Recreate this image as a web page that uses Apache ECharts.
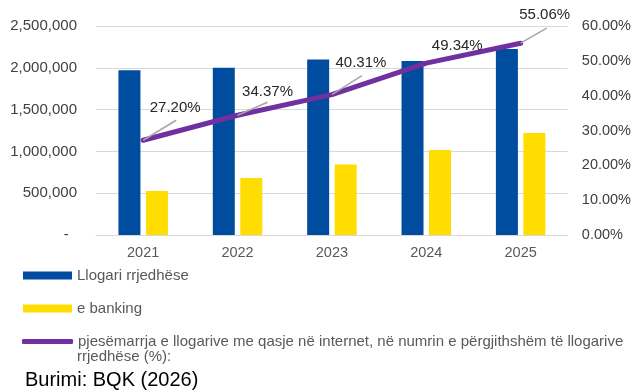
<!DOCTYPE html>
<html>
<head>
<meta charset="utf-8">
<script src="https://cdn.jsdelivr.net/npm/echarts@6/dist/echarts.min.js"></script>
<style>html,body{margin:0;padding:0;background:#fff;}#c{width:634px;height:390px;}</style>
</head>
<body>
<div id="c"></div>
<script>
var categories = ['2021', '2022', '2023', '2024', '2025'];
var llogariRrjedhese = [1970000, 2000000, 2100000, 2080000, 2225000];
var eBanking = [527000, 683000, 842000, 1018000, 1220000];
var pjesemarrja = [27.20, 34.37, 40.31, 49.34, 55.06];
var seriesNames = ['Llogari rrjedhëse', 'e banking', 'pjesëmarrja e llogarive me qasje në internet, në numrin e përgjithshëm të llogarive rrjedhëse (%):'];
var legendLine2 = 'rrjedhëse (%):';
var sourceText = 'Burimi: BQK (2026)';

// label layout (pixel offsets from each data point): label centre, leader end
var labelCentre = [[32, -32], [30, -23], [29, -32], [31, -17], [24, -28]];
var leaderEnd = [[33, -20], [30, -13], [30, -19], [0, 0], [26, -15]];

var FONT = 'Liberation Sans, Arial, sans-serif';
var chart = echarts.init(document.getElementById('c'), null, {renderer: 'canvas'});
function fmtNum(v) {
  if (v === 0) return '-  ';
  return v.toString().replace(/\B(?=(\d{3})+(?!\d))/g, ',');
}
var legendText = {fontFamily: FONT, fontSize: 15, color: '#595959'};
chart.setOption({
  animation: false,
  backgroundColor: '#fff',
  grid: {left: 96, right: 66, top: 26, bottom: 155},
  title: [
    {text: sourceText, left: 25, top: 370, padding: 0,
     textStyle: {fontFamily: FONT, fontSize: 20, fontWeight: 'normal', color: '#000'}},
    {text: legendLine2, left: 77, top: 349, padding: 0,
     textStyle: {fontFamily: FONT, fontSize: 15, fontWeight: 'normal', color: '#595959'}}
  ],
  legend: [
    {data: [seriesNames[0]], left: 23, top: 268, padding: 0, itemWidth: 49, itemHeight: 8, icon: 'rect',
     textStyle: legendText},
    {data: [seriesNames[1]], left: 23, top: 301, padding: 0, itemWidth: 49, itemHeight: 8, icon: 'rect',
     textStyle: legendText},
    {data: [seriesNames[2]], left: 22, top: 334, padding: 0, itemWidth: 51, itemHeight: 5, icon: 'roundRect',
     formatter: function (n) { return n.replace(' ' + legendLine2, ''); },
     textStyle: legendText}
  ],
  xAxis: {
    type: 'category', data: categories,
    axisLine: {lineStyle: {color: '#d9d9d9', width: 1}},
    axisTick: {show: false},
    axisLabel: {fontFamily: FONT, fontSize: 14.5, color: '#595959', margin: 10}
  },
  yAxis: [
    {type: 'value', min: 0, max: 2500000, interval: 500000,
     axisLine: {show: false}, axisTick: {show: false},
     splitLine: {lineStyle: {color: '#d9d9d9', width: 1}},
     axisLabel: {fontFamily: FONT, fontSize: 15, color: '#404040', margin: 19, formatter: fmtNum}},
    {type: 'value', min: 0, max: 60, interval: 10,
     axisLine: {show: false}, axisTick: {show: false}, splitLine: {show: false},
     axisLabel: {fontFamily: FONT, fontSize: 14.5, color: '#404040', margin: 14,
       formatter: function (v) { return v.toFixed(2) + '%'; }}}
  ],
  series: [
    {name: seriesNames[0], type: 'bar', data: llogariRrjedhese, barWidth: 22, barGap: '25%',
     itemStyle: {color: '#004c9f'}},
    {name: seriesNames[1], type: 'bar', data: eBanking, barWidth: 22,
     itemStyle: {color: '#ffdd00'}},
    {name: seriesNames[2], type: 'line', yAxisIndex: 1, data: pjesemarrja,
     showSymbol: false, symbol: 'none',
     itemStyle: {color: '#7030a0'},
     lineStyle: {color: '#7030a0', width: 5, cap: 'round'},
     z: 5},
    {type: 'custom', yAxisIndex: 1, z: 6, silent: true,
     data: pjesemarrja.map(function (v, i) { return [i, v]; }),
     renderItem: function (params, api) {
       var i = params.dataIndex;
       var v = api.value(1);
       var p = api.coord([api.value(0), v]);
       var c = labelCentre[i], e = leaderEnd[i];
       var children = [];
       if (e[0] !== 0 || e[1] !== 0) {
         children.push({type: 'line', shape: {x1: p[0], y1: p[1], x2: p[0] + e[0], y2: p[1] + e[1]},
           style: {stroke: '#a6a6a6', lineWidth: 1.5}});
       }
       children.push({type: 'text', x: p[0] + c[0], y: p[1] + c[1],
         style: {text: v.toFixed(2) + '%', fontFamily: FONT, fontSize: 15, fill: '#262626',
           align: 'center', verticalAlign: 'middle'}});
       return {type: 'group', children: children};
     }}
  ]
});
</script>
</body>
</html>
